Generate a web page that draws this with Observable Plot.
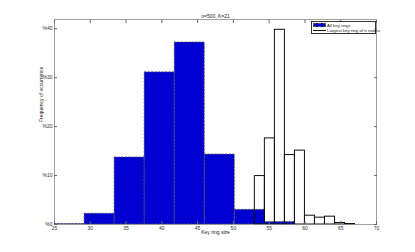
<!DOCTYPE html>
<html>
<head>
<meta charset="utf-8">
<script src="https://cdn.jsdelivr.net/npm/d3@7"></script>
<script src="https://cdn.jsdelivr.net/npm/@observablehq/plot@0.6"></script>
<style>
  html, body { margin: 0; padding: 0; background: #fff; }
  #wrap { position: relative; width: 415px; height: 252px; font-family: "Liberation Sans", Arial, sans-serif; }
  #legend { position: absolute; left: 311px; top: 21px; width: 65px; height: 12.5px; border: 1px solid #333; background: #fff; box-sizing: border-box; font-size: 4.4px; color: #222; }
  .li { position: absolute; left: 1px; display: flex; align-items: center; white-space: nowrap; }
  .sw { width: 13px; height: 4px; background: #0000d0; border: 0.5px dashed #555; box-sizing: border-box; margin-right: 1px; }
  .ln { width: 13px; height: 0; border-top: 1px solid #111; margin-right: 1px; }
</style>
</head>
<body>
<div id="wrap">
  <div id="chart"></div>
  <div id="legend">
    <div class="li" style="top:0.5px"><div class="sw"></div><span>All key rings</span></div>
    <div class="li" style="top:6px"><div class="ln"></div><span>Largest key ring of n nodes</span></div>
  </div>
</div>
<script>
// Data
const title = "n=500, K=21";
const xLabel = "Key ring size";
const yLabel = "Frequency of occurrence";
const xTicks = [25, 30, 35, 40, 45, 50, 55, 60, 65, 70];
const yTicks = [0, 10, 20, 30, 40];

// "All key rings" histogram (bin centres, % occurrence), bin width 4.2
const allCenters = [27.1, 31.3, 35.5, 39.7, 43.9, 48.1, 52.3, 56.5];
const allPct     = [0.1, 2.2, 13.7, 31.1, 37.2, 14.3, 3.0, 0.5];
const allWidth = 4.2;

// "Largest key ring of n nodes" histogram (bin centres, %), bin width 1.4
const largestCenters = [53.7, 55.1, 56.5, 57.9, 59.3, 60.7, 62.1, 63.5, 64.9, 66.3];
const largestPct     = [9.9, 17.6, 39.8, 14.2, 15.1, 1.8, 1.4, 1.6, 0.3, 0.1];
const largestWidth = 1.4;

const allData = allCenters.map((c, i) => ({x1: c - allWidth / 2, x2: c + allWidth / 2, y: allPct[i]}));
const largestData = largestCenters.map((c, i) => ({x1: c - largestWidth / 2, x2: c + largestWidth / 2, y: largestPct[i]}));

const chart = Plot.plot({
  width: 415,
  height: 252,
  marginLeft: 54,
  marginRight: 39,
  marginTop: 19,
  marginBottom: 28,
  style: {fontSize: "5px", fontFamily: "Liberation Sans, Arial, sans-serif", color: "#222", background: "#fff"},
  x: {domain: [25, 70]},
  y: {domain: [0, 41.9]},
  marks: [
    Plot.rectY(allData, {x1: "x1", x2: "x2", y: "y", fill: "#0000d0", stroke: "#555", strokeDasharray: "2,1.5", strokeWidth: 0.8}),
    Plot.rectY(largestData, {x1: "x1", x2: "x2", y: "y", fill: "none", stroke: "#111", strokeWidth: 1}),
    Plot.frame({stroke: "#888", strokeWidth: 0.8}),
    Plot.axisX(xTicks, {anchor: "bottom", tickSize: 0, tickPadding: 2, label: null, fill: "#333"}),
    Plot.axisX(xTicks, {anchor: "bottom", tickSize: -3, tickFormat: () => "", label: null, stroke: "#666"}),
    Plot.axisX(xTicks, {anchor: "top", tickSize: -3, tickFormat: () => "", label: null, stroke: "#666"}),
    Plot.axisY(yTicks, {anchor: "left", tickSize: 0, tickPadding: 2, tickFormat: d => "%" + d, label: null, fill: "#333"}),
    Plot.axisY(yTicks, {anchor: "left", tickSize: -3, tickFormat: () => "", label: null, stroke: "#666"}),
    Plot.axisY(yTicks, {anchor: "right", tickSize: -3, tickFormat: () => "", label: null, stroke: "#666"}),
    Plot.text([title], {frameAnchor: "top", dy: -5, fill: "#222"}),
    Plot.text([xLabel], {frameAnchor: "bottom", dy: 9, fill: "#222"}),
    Plot.text([yLabel], {frameAnchor: "left", dx: -13, rotate: -90, fill: "#222"})
  ]
});
document.getElementById("chart").appendChild(chart);
</script>
</body>
</html>
